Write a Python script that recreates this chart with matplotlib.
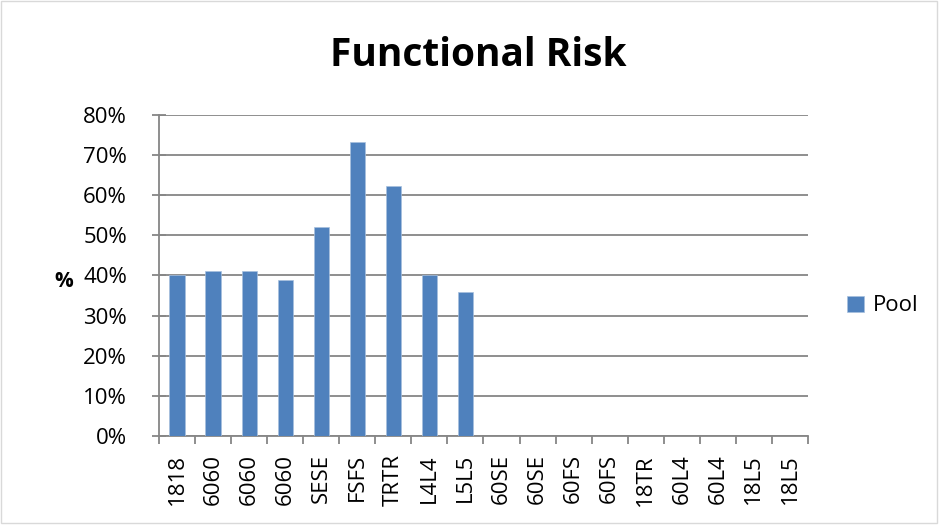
import matplotlib
matplotlib.use("Agg")
import matplotlib.pyplot as plt
from matplotlib.patches import Rectangle
import numpy as np

categories = ["1818", "6060", "6060", "6060", "SESE", "FSFS", "TRTR", "L4L4", "L5L5",
              "60SE", "60SE", "60FS", "60FS", "18TR", "60L4", "60L4", "18L5", "18L5"]
pool = [40.0, 41.0, 41.0, 39.0, 52.0, 73.3, 62.3, 40.0, 36.0, 0, 0, 0, 0, 0, 0, 0, 0, 0]
yticks = [0, 10, 20, 30, 40, 50, 60, 70, 80]

plt.rcParams['font.family'] = ['Open Sans', 'DejaVu Sans']

fig = plt.figure(figsize=(9.39, 5.25), dpi=100)
fig.patches.append(Rectangle((0.001, 0.003), 0.997, 0.995, transform=fig.transFigure,
                             fill=False, edgecolor="#d9d9d9", linewidth=1.0))

ax = fig.add_axes([0.1693, 0.1695, 0.8605 - 0.1693, 0.781 - 0.1695])
n = len(categories)
x = np.arange(n)
ax.bar(x, pool, width=0.42, color="#4f81bd", edgecolor="#a7c0de", linewidth=0.5,
       label="Pool", zorder=3)

ax.set_xlim(-0.5, n - 0.5)
ax.set_ylim(0, 80)
ax.set_yticks(yticks)
ax.set_yticklabels([f"{v}%" for v in yticks], fontsize=16)
ax.yaxis.grid(True, color="#868686", linewidth=1.3, zorder=0)
ax.set_xticks(x)
ax.set_xticklabels(categories, rotation=90, fontsize=16)
ax.set_xticks(np.arange(-0.5, n, 1), minor=True)
ax.tick_params(axis="x", which="major", length=0, pad=13)
ax.tick_params(axis="x", which="minor", length=6, color="#868686", width=1.3, direction="out")
ax.tick_params(axis="y", length=10, color="#868686", width=1.3, direction="inout", pad=18)

for s in ["top", "right"]:
    ax.spines[s].set_visible(False)
for s in ["left", "bottom"]:
    ax.spines[s].set_color("#868686")
    ax.spines[s].set_linewidth(1.3)

ax.set_ylabel("%", fontsize=15, fontweight="bold", rotation=0, va="center", ha="center")
ax.yaxis.set_label_coords(-0.146, 0.48)

fig.text(0.509, 0.895, "Functional Risk", ha="center", va="center", fontsize=28,
         fontweight="bold")

ax.legend(loc="center left", bbox_to_anchor=(1.06, 0.405), frameon=False, fontsize=16,
          handlelength=0.75, handleheight=0.75, handletextpad=0.4,
          borderaxespad=0, borderpad=0)

fig.savefig("out.png", dpi=100)
